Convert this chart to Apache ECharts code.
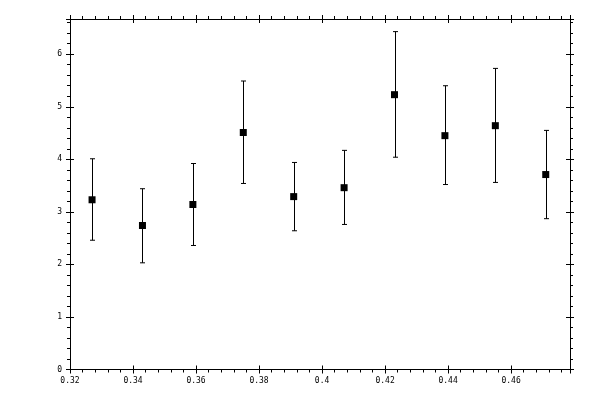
<!DOCTYPE html>
<html>
<head>
<meta charset="utf-8">
<script src="https://cdn.jsdelivr.net/npm/echarts@6/dist/echarts.min.js"></script>
<style>
	html, body { margin: 0; padding: 0; background: #fff; }
	#chart { width: 600px; height: 400px; }
</style>
</head>
<body>
<div id="chart"></div>
<script>
// measured points, with the lower and upper ends of each error bar
var xValues = [0.327, 0.343, 0.359, 0.375, 0.391, 0.407, 0.423, 0.439, 0.455, 0.471];
var yValues = [3.23, 2.74, 3.14, 4.51, 3.29, 3.46, 5.23, 4.45, 4.64, 3.71];
var yLow    = [2.46, 2.03, 2.36, 3.54, 2.64, 2.76, 4.04, 3.52, 3.56, 2.87];
var yHigh   = [4.01, 3.44, 3.92, 5.49, 3.94, 4.17, 6.43, 5.40, 5.73, 4.55];

// axis ranges and tick steps
var xRange = [0.32, 0.4787];
var xSteps = [0.02, 0.004];   // major, minor
var yRange = [0, 6.67];
var ySteps = [1, 0.2];

var chart = echarts.init(document.getElementById('chart'));

var fmt = v => String(Math.round(v * 1000) / 1000);
var black = { color: '#000', width: 1 };

// three axes per side: major ticks inward, major ticks outward, minor ticks outward
function side(pos, range, steps, withLabels) {
	var base = {
		position: pos, type: 'value', min: range[0], max: range[1],
		splitLine: { show: false }, axisLabel: { show: false }
	};
	return [
		Object.assign({}, base, {
			interval: steps[0],
			axisLine: { show: true, onZero: false, lineStyle: black },
			axisTick: { show: true, inside: true, length: 4, lineStyle: black },
			axisLabel: {
				show: withLabels, color: '#000', fontFamily: 'DejaVu Sans Mono',
				fontSize: 8, margin: pos === 'bottom' ? 7 : 8,
				showMaxLabel: false, formatter: fmt
			}
		}),
		Object.assign({}, base, {
			interval: steps[0],
			axisLine: { show: false, onZero: false },
			axisTick: { show: true, inside: false, length: 4, lineStyle: black }
		}),
		Object.assign({}, base, {
			interval: steps[1],
			axisLine: { show: false, onZero: false },
			axisTick: { show: true, inside: false, length: 3, lineStyle: black }
		})
	];
}

var xAxes = side('bottom', xRange, xSteps, true).concat(side('top', xRange, xSteps, false));
var yAxes = side('left', yRange, ySteps, true).concat(side('right', yRange, ySteps, false));

var barData = xValues.map((x, i) => [x, yLow[i], yHigh[i]]);
var pointData = xValues.map((x, i) => [x, yValues[i]]);

chart.setOption({
	animation: false,
	grid: { left: 70, right: 30, top: 19, bottom: 30.5 },
	xAxis: xAxes,
	yAxis: yAxes,
	series: [{
		type: 'custom',
		xAxisIndex: 0, yAxisIndex: 0,
		encode: { x: 0, y: [1, 2] },
		data: barData,
		renderItem: (params, api) => {
			var top = api.coord([api.value(0), api.value(2)]);
			var bot = api.coord([api.value(0), api.value(1)]);
			var x = Math.round(top[0]) + 0.5;
			var hw = 2.5;
			var style = { stroke: '#000', lineWidth: 1 };
			return {
				type: 'group',
				children: [
					{ type: 'line', shape: { x1: x, y1: top[1], x2: x, y2: bot[1] }, style: style },
					{ type: 'line', shape: { x1: x - hw, y1: top[1], x2: x + hw, y2: top[1] }, style: style },
					{ type: 'line', shape: { x1: x - hw, y1: bot[1], x2: x + hw, y2: bot[1] }, style: style }
				]
			};
		}
	}, {
		type: 'scatter',
		xAxisIndex: 0, yAxisIndex: 0,
		symbol: 'rect',
		symbolSize: 7,
		itemStyle: { color: '#000', opacity: 1 },
		data: pointData
	}]
});
</script>
</body>
</html>
